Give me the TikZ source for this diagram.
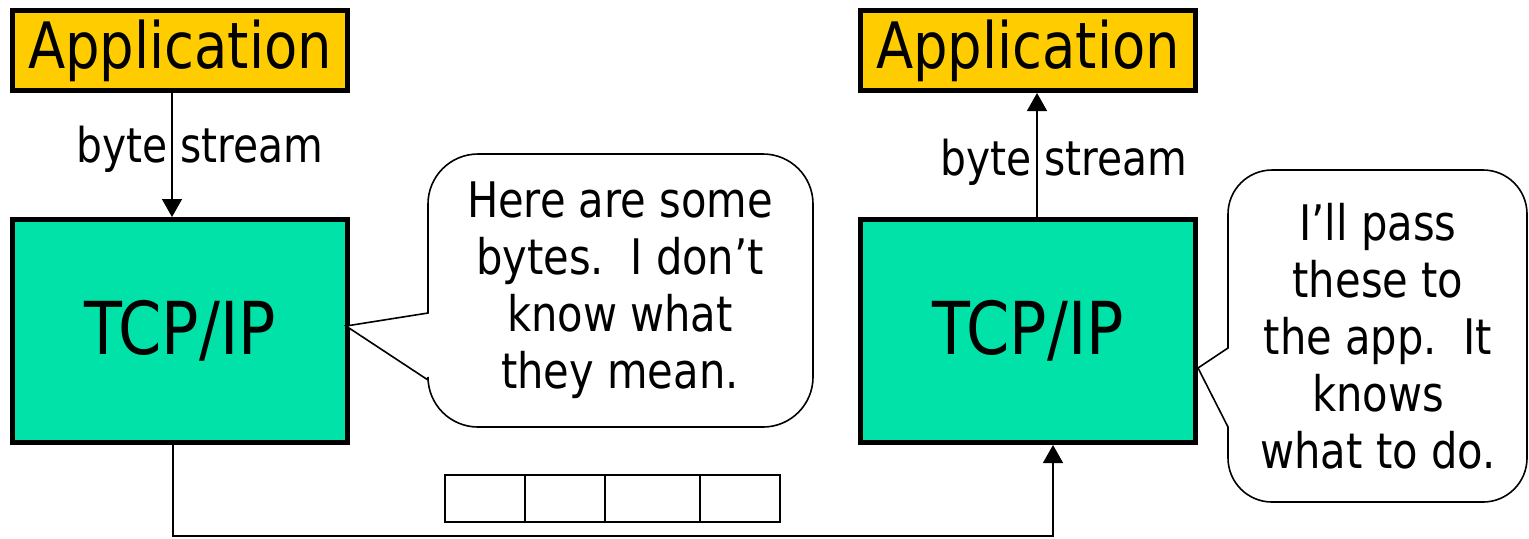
\documentclass[tikz,border=0pt]{standalone}
\usepackage{fontspec}
\setmainfont{DejaVu Sans}[FakeStretch=0.85]
\usetikzlibrary{arrows.meta}

\definecolor{appyellow}{RGB}{255,204,0}
\definecolor{tcpgreen}{RGB}{0,226,168}

\begin{document}
\begin{tikzpicture}[x=0.5pt,y=-0.5pt,
  app/.style={draw,line width=2.5pt,fill=appyellow,minimum width=167.5pt,minimum height=40pt,inner sep=0pt,font=\fontsize{32}{38}\selectfont},
  tcp/.style={draw,line width=2.5pt,fill=tcpgreen,minimum width=167.5pt,minimum height=111.5pt,inner sep=0pt,font=\fontsize{36.5}{44}\selectfont},
  flow/.style={line width=0.7pt,-{Triangle[length=9pt,width=10pt]}},
  bubble/.style={draw,line width=0.8pt,fill=white},
  note/.style={align=center,font=\fontsize{24.5}{28.5}\selectfont},
  stream/.style={anchor=base,inner sep=0pt,font=\fontsize{24}{28}\selectfont},
  cell/.style={draw,line width=0.9pt,minimum height=23.5pt,inner sep=0pt}]
\useasboundingbox (0,0) rectangle (1529,538);

% both hosts
\node[app] (lapp) at (180,50.5) {Application};
\node[app] (rapp) at (1028,50.5) {Application};
\node[tcp] (ltcp) at (180,331) {TCP/IP};
\node[tcp] (rtcp) at (1028,331) {TCP/IP};

% byte stream up and down
\node[stream] (lbs) at (200,162) {byte stream};
\node[stream] (rbs) at (1064,175) {byte stream};
\draw[flow] ([xshift=-4pt]lapp.south) -- ([xshift=-4pt]ltcp.north);
\draw[flow] ([xshift=4.5pt]rtcp.north) -- ([xshift=4.5pt]rapp.south);

% speech bubbles
\draw[bubble] (428,380) [rounded corners=25pt] -- (428,427) -- (813,427) -- (813,154) -- (428,154) [sharp corners] -- (428,313) -- ([xshift=-2pt,yshift=2.5pt]ltcp.east) -- cycle;
\draw[bubble] (1228,427) [rounded corners=22pt] -- (1228,502) -- (1527,502) -- (1527,170) -- (1228,170) [sharp corners] -- (1228,348) -- ([yshift=-18.5pt]rtcp.east) -- cycle;
\node[note] (lnote) at (620,290) {Here are some\\bytes.\ \ I don’t\\know what\\they mean.};
\node[note] (rnote) at (1378,336) {I’ll pass\\these to\\the app.\ \ It\\knows\\what to do.};

% packet on the wire
\foreach \cx/\w [count=\i] in {485/80,565/80,652.5/95,740/80}
  \node[cell,minimum width=\w*0.5pt] (cell\i) at (\cx,498.5) {};
\coordinate (wire) at (600,536);
\draw[flow] ([xshift=-3.5pt]ltcp.south) |- (wire) -| ([xshift=12.5pt]rtcp.south);
\end{tikzpicture}
\end{document}
